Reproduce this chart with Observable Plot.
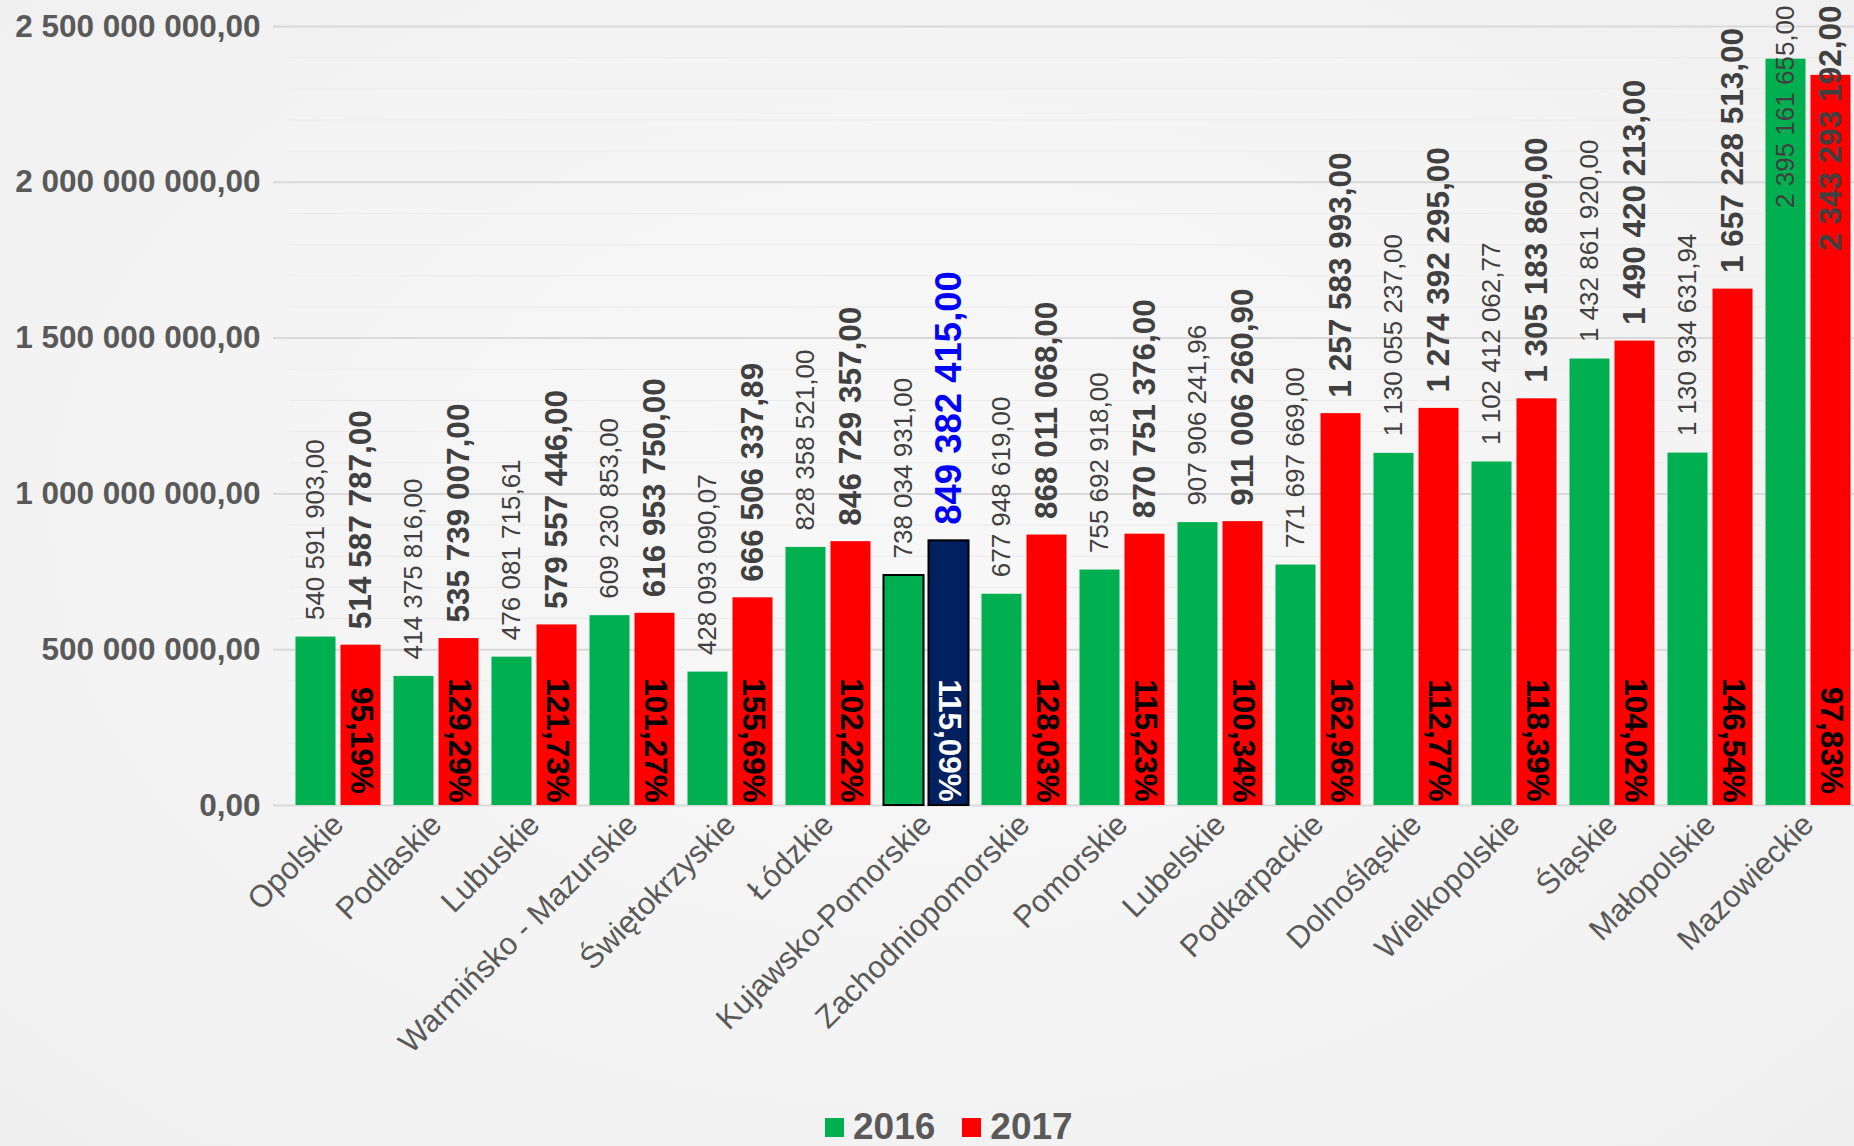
<!DOCTYPE html>
<html>
<head>
<meta charset="utf-8">
<script src="https://cdn.jsdelivr.net/npm/d3@7"></script>
<script src="https://cdn.jsdelivr.net/npm/@observablehq/plot@0.6"></script>
<style>
html, body { margin: 0; padding: 0; width: 1854px; height: 1146px; overflow: hidden; }
body {
  background: radial-gradient(ellipse at 50% 45%, #f8f8f8 0%, #f4f4f4 55%, #efefef 100%);
  font-family: "Liberation Sans", Arial, sans-serif;
  position: relative;
}
#chart { position: absolute; left: 0; top: 0; }
#legend { position: absolute; left: 825px; top: 1108px; display: flex; align-items: center;
  font-weight: bold; font-size: 37px; line-height: 38px; color: #595959; }
.item { display: flex; align-items: center; margin-right: 27px; }
.sw { width: 19px; height: 19px; display: inline-block; margin-right: 9px; }
</style>
</head>
<body>
<div id="chart"></div>
<div id="legend"></div>
<script>
const regions = ["Opolskie", "Podlaskie", "Lubuskie", "Warmińsko - Mazurskie", "Świętokrzyskie", "Łódzkie",
  "Kujawsko-Pomorskie", "Zachodniopomorskie", "Pomorskie", "Lubelskie", "Podkarpackie", "Dolnośląskie",
  "Wielkopolskie", "Śląskie", "Małopolskie", "Mazowieckie"];
const years = ["2016", "2017"];
const values2016 = [540591903.00, 414375816.00, 476081715.61, 609230853.00, 428093090.07, 828358521.00,
  738034931.00, 677948619.00, 755692918.00, 907906241.96, 771697669.00, 1130055237.00,
  1102412062.77, 1432861920.00, 1130934631.94, 2395161655.00];
const values2017 = [514587787.00, 535739007.00, 579557446.00, 616953750.00, 666506337.89, 846729357.00,
  849382415.00, 868011068.00, 870751376.00, 911006260.90, 1257583993.00, 1274392295.00,
  1305183860.00, 1490420213.00, 1657228513.00, 2343293192.00];
const percentLabels = ["95,19%", "129,29%", "121,73%", "101,27%", "155,69%", "102,22%", "115,09%", "128,03%",
  "115,23%", "100,34%", "162,96%", "112,77%", "118,39%", "104,02%", "146,54%", "97,83%"];
const yTicks = [0, 500000000, 1000000000, 1500000000, 2000000000, 2500000000];
const highlight = "Kujawsko-Pomorskie";
const seriesColors = ["#00b050", "#ff0000"];

const rows = regions.flatMap((r, i) => [
  {region: r, year: years[0], value: values2016[i], pct: null},
  {region: r, year: years[1], value: values2017[i], pct: percentLabels[i]}
]);

const fmt = v => {
  const [int, dec] = v.toFixed(2).split(".");
  return int.replace(/\B(?=(\d{3})+(?!\d))/g, " ") + "," + dec;
};
const barFill = d => d.region === highlight && d.year === years[1] ? "#002060" : (d.year === years[0] ? seriesColors[0] : seriesColors[1]);
const fitsAbove = d => d.value < 2.2e9;
const minorTicks = d3.range(1e8, 2.5e9 + 1, 1e8).filter(v => v % 5e8 !== 0);

const chart = Plot.plot({
  width: 1854,
  height: 1090,
  marginLeft: 289,
  marginRight: -3,
  marginTop: 26,
  marginBottom: 285,
  style: {background: "transparent", fontFamily: "'Liberation Sans', Arial, sans-serif", overflow: "visible"},
  fx: {domain: regions, paddingInner: 0, paddingOuter: 0, round: false, label: null},
  x: {domain: years, paddingInner: 0.111, paddingOuter: 0.144, round: false, axis: null},
  y: {domain: [0, 2.5e9], axis: null},
  marks: [
    Plot.ruleY(minorTicks, {stroke: "#ebebeb", strokeWidth: 1}),
    Plot.ruleY(yTicks, {stroke: "#d9d9d9", strokeWidth: 2}),
    Plot.barY(rows, {
      fx: "region", x: "year", y: "value",
      fill: barFill,
      stroke: d => d.region === highlight ? "#000000" : "none",
      strokeWidth: 2
    }),
    // 2016 value labels
    Plot.text(rows.filter(d => d.year === years[0] && fitsAbove(d)), {
      fx: "region", x: "year", y: "value", text: d => fmt(d.value),
      rotate: -90, textAnchor: "start", lineAnchor: "middle", dy: -17, fontSize: 26, fill: "#404040"
    }),
    Plot.text(rows.filter(d => d.year === years[0] && !fitsAbove(d)), {
      fx: "region", x: "year", frameAnchor: "top", text: d => fmt(d.value),
      rotate: -90, textAnchor: "end", lineAnchor: "middle", dy: -21, fontSize: 26, fill: "#404040"
    }),
    // 2017 value labels
    Plot.text(rows.filter(d => d.year === years[1] && fitsAbove(d)), {
      fx: "region", x: "year", y: "value", text: d => fmt(d.value),
      rotate: -90, textAnchor: "start", lineAnchor: "middle", dy: -16, fontWeight: "bold",
      fontSize: d => d.region === highlight ? 36.5 : 31.5,
      fill: d => d.region === highlight ? "#0000ff" : "#404040"
    }),
    Plot.text(rows.filter(d => d.year === years[1] && !fitsAbove(d)), {
      fx: "region", x: "year", frameAnchor: "top", text: d => fmt(d.value),
      rotate: -90, textAnchor: "end", lineAnchor: "middle", dy: -21, fontWeight: "bold", fontSize: 31.5, fill: "#404040"
    }),
    // percent labels inside 2017 bars
    Plot.text(rows.filter(d => d.year === years[1]), {
      fx: "region", x: "year", frameAnchor: "bottom", text: "pct",
      rotate: 90, textAnchor: "middle", lineAnchor: "middle", dy: -65, fontWeight: "bold", fontSize: 31.5,
      fill: d => d.region === highlight ? "#ffffff" : "#000000"
    }),
    Plot.axisY(yTicks, {
      tickFormat: fmt, tickSize: 16, tickPadding: 13, fontSize: 31.5, fontWeight: "bold",
      fill: "#595959", stroke: "#d9d9d9", strokeWidth: 2, label: null
    }),
    Plot.axisFx({
      anchor: "bottom", tickRotate: -45, tickSize: 0, tickPadding: 14, fontSize: 31,
      color: "#595959", label: null
    })
  ]
});
document.getElementById("chart").append(chart);

const legend = document.getElementById("legend");
years.forEach((y, i) => {
  const item = document.createElement("div");
  item.className = "item";
  const sw = document.createElement("span");
  sw.className = "sw";
  sw.style.background = seriesColors[i];
  const t = document.createElement("span");
  t.textContent = y;
  item.append(sw, t);
  legend.append(item);
});
</script>
</body>
</html>
